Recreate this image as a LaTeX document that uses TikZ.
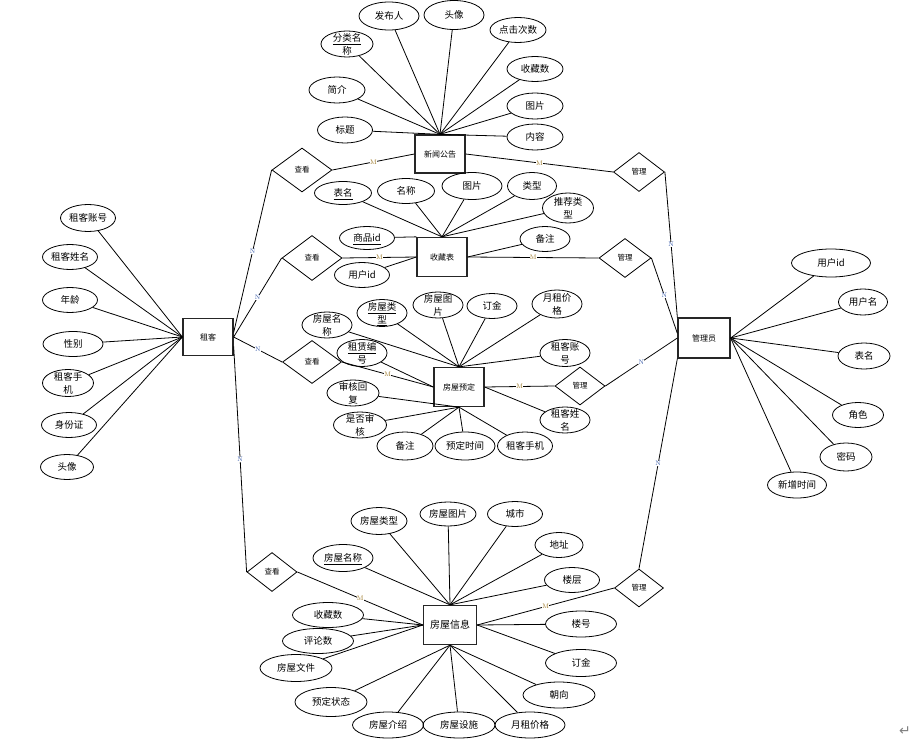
\documentclass[tikz,border=0pt]{standalone}
\usepackage{fontspec}
\usepackage{xcolor}
\usepackage{tikz}
\usetikzlibrary{shapes.geometric}
\newfontfamily\cjk{Noto Sans CJK SC}
\newfontfamily\symfont{DejaVu Sans}
\definecolor{mcolor}{HTML}{9A7420}
\definecolor{ncolor}{HTML}{3558A8}
\newcommand\etxt[1]{\makebox[0pt]{\raisebox{-.38em}[0pt][0pt]{\begin{tabular}{@{}c@{}}#1\end{tabular}}}}

\begin{document}
\begin{tikzpicture}[
    x=1pt, y=-1pt,
    sz/.style 2 args={minimum width=#1, minimum height=#2},
    attr/.style={ellipse, draw, line width=0.8pt, inner sep=0pt, font=\cjk\fontsize{9.5}{12.5}\selectfont},
    entity/.style={rectangle, draw=black!85, line width=1.3pt, inner sep=0pt, font=\cjk\fontsize{8}{10}\selectfont},
    rel/.style={diamond, draw, line width=0.8pt, inner sep=0pt, font=\cjk\fontsize{7.5}{9}\selectfont},
    link/.style={line width=0.8pt},
    mlab/.style={font=\fontsize{6.5}{6.5}\selectfont, text=mcolor, fill=white, inner sep=0.2pt},
    nlab/.style={font=\fontsize{6.5}{6.5}\selectfont, text=ncolor, fill=white, inner sep=0.2pt},
]
\fill[white] (0,0) rectangle (923,746);

\node[entity, sz={50}{38}] (news) at (440,154) {\etxt{新闻公告}};
\node[entity, sz={50}{39}] (fav) at (442,257) {\etxt{收藏表}};
\node[entity, sz={50}{39}] (book) at (459,387) {\etxt{房屋预定}};
\node[entity, sz={53}{39}, font=\cjk\fontsize{10}{12}\selectfont] (house) at (450,625) {\etxt{房屋信息}};
\node[entity, sz={50}{37}] (tenant) at (208,337) {\etxt{租客}};
\node[entity, sz={52}{40}] (admin) at (704,338) {\etxt{管理员}};

\node[rel, sz={60}{44}] (vnews) at (302,170) {\etxt{查看}};
\node[rel, sz={51}{39}] (mnews) at (639,172) {\etxt{管理}};
\node[rel, sz={60}{45}] (vfav) at (312,258) {\etxt{查看}};
\node[rel, sz={52}{39}] (mfav) at (625,258) {\etxt{管理}};
\node[rel, sz={59}{43}] (vbook) at (312,362) {\etxt{查看}};
\node[rel, sz={50}{38}] (mbook) at (580,386) {\etxt{管理}};
\node[rel, sz={50}{39}] (vhouse) at (272,572) {\etxt{查看}};
\node[rel, sz={49}{38}] (mhouse) at (639,588) {\etxt{管理}};

\node[attr, sz={60}{28}] (nfb) at (389,16) {\etxt{发布人}};
\node[attr, sz={60}{29}] (ntx) at (454,15) {\etxt{头像}};
\node[attr, sz={56}{25}] (ndj) at (518,30) {\etxt{点击次数}};
\node[attr, sz={56}{25}] (nsc) at (535,69) {\etxt{收藏数}};
\node[attr, sz={56}{26}] (ntp) at (535,106) {\etxt{图片}};
\node[attr, sz={56}{26}] (nnr) at (535,137) {\etxt{内容}};
\node[attr, sz={55}{26}] (nbt) at (345,130) {\etxt{标题}};
\node[attr, sz={56}{26}] (njj) at (337,90) {\etxt{简介}};
\node[attr, sz={52}{26}] (nfl) at (347,44) {\etxt{\underline{分类名}\\称}};

\node[attr, sz={57}{23}] (fbm) at (343,193) {\etxt{\underline{表名}}};
\node[attr, sz={57}{25}] (fmc) at (406,191) {\etxt{名称}};
\node[attr, sz={60}{27}] (ftp) at (472,186) {\etxt{图片}};
\node[attr, sz={49}{27}] (flx) at (532,186) {\etxt{类型}};
\node[attr, sz={51}{30}] (ftj) at (568,208) {\etxt{推荐类\\型}};
\node[attr, sz={55}{23}] (fsp) at (367,238) {\etxt{\underline{商品id}}};
\node[attr, sz={55}{25}] (fyh) at (362,275) {\etxt{用户id}};
\node[attr, sz={50}{25}] (fbz) at (545,239) {\etxt{备注}};

\node[attr, sz={50}{26}] (bmc) at (327,325) {\etxt{房屋名\\称}};
\node[attr, sz={50}{27}] (blx) at (382,313) {\etxt{\underline{房屋类}\\\underline{型}}};
\node[attr, sz={50}{26}] (btp) at (438,305) {\etxt{房屋图\\片}};
\node[attr, sz={50}{25}] (bdj) at (492,306) {\etxt{订金}};
\node[attr, sz={50}{28}] (byz) at (557,304) {\etxt{月租价\\格}};
\node[attr, sz={50}{27}] (bzh) at (565,353) {\etxt{租客账\\号}};
\node[attr, sz={50}{26}] (bxm) at (565,420) {\etxt{租客姓\\名}};
\node[attr, sz={50}{27}] (bbh) at (362,353) {\etxt{\underline{租赁编}\\号}};
\node[attr, sz={52}{26}] (bhf) at (353,393) {\etxt{审核回\\复}};
\node[attr, sz={53}{26}] (bsh) at (360,425) {\etxt{是否审\\核}};
\node[attr, sz={56}{28}] (bbz) at (405,446) {\etxt{备注}};
\node[attr, sz={60}{28}] (bsj) at (465,446) {\etxt{预定时间}};
\node[attr, sz={55}{28}] (bzs) at (525,446) {\etxt{租客手机}};

\node[attr, sz={55}{27}] (tzh) at (88,218) {\etxt{租客账号}};
\node[attr, sz={55}{25}] (txm) at (70,257) {\etxt{租客姓名}};
\node[attr, sz={55}{25}] (tnl) at (70,300) {\etxt{年龄}};
\node[attr, sz={60}{25}] (txb) at (73,344) {\etxt{性别}};
\node[attr, sz={51}{27}] (tsj) at (68,383) {\etxt{租客手\\机}};
\node[attr, sz={55}{25}] (tsf) at (69,425) {\etxt{身份证}};
\node[attr, sz={53}{25}] (ttx) at (67,467) {\etxt{头像}};

\node[attr, sz={79}{28}] (ayid) at (831,263) {\etxt{用户id}};
\node[attr, sz={49}{26}] (aymc) at (863,302) {\etxt{用户名}};
\node[attr, sz={52}{26}] (abm) at (864,356) {\etxt{表名}};
\node[attr, sz={51}{25}] (ajs) at (858,415) {\etxt{角色}};
\node[attr, sz={52}{28}] (amm) at (846,457) {\etxt{密码}};
\node[attr, sz={59}{26}] (axz) at (797,485) {\etxt{新增时间}};

\node[attr, sz={56}{27}] (hlx) at (379,521) {\etxt{房屋类型}};
\node[attr, sz={56}{24}] (htp) at (448,514) {\etxt{房屋图片}};
\node[attr, sz={55}{25}] (hcs) at (515,514) {\etxt{城市}};
\node[attr, sz={48}{25}] (hdz) at (559,545) {\etxt{地址}};
\node[attr, sz={55}{25}] (hlc) at (572,580) {\etxt{楼层}};
\node[attr, sz={71}{26}] (hlh) at (581,624) {\etxt{楼号}};
\node[attr, sz={71}{27}] (hdj) at (581,663) {\etxt{订金}};
\node[attr, sz={72}{26}] (hcx) at (559,695) {\etxt{朝向}};
\node[attr, sz={70}{26}] (hyz) at (530,725) {\etxt{月租价格}};
\node[attr, sz={72}{26}] (hss) at (459,725) {\etxt{房屋设施}};
\node[attr, sz={71}{26}] (hjs) at (388,725) {\etxt{房屋介绍}};
\node[attr, sz={72}{29}] (hyd) at (331,702) {\etxt{预定状态}};
\node[attr, sz={72}{27}] (hwj) at (296,668) {\etxt{房屋文件}};
\node[attr, sz={71}{25}] (hpl) at (318,641) {\etxt{评论数}};
\node[attr, sz={71}{25}] (hsc) at (328,615) {\etxt{收藏数}};
\node[attr, sz={60}{27}] (hmc) at (343,558) {\etxt{\underline{房屋名称}}};

\node[font=\symfont\fontsize{14}{14}\selectfont, text=black!50] (ret) at (905,731) {↵};

\draw[link] (nfb) -- (news.north);
\draw[link] (ntx) -- (news.north);
\draw[link] (ndj) -- (news.north);
\draw[link] (nsc) -- (news.north);
\draw[link] (ntp) -- (news.north);
\draw[link] (nnr) -- (news.north);
\draw[link] (nbt) -- (news.north);
\draw[link] (njj) -- (news.north);
\draw[link] (nfl) -- (news.north);

\draw[link] (fbm) -- (fav.north);
\draw[link] (fmc) -- (fav.north);
\draw[link] (ftp) -- (fav.north);
\draw[link] (flx) -- (fav.north);
\draw[link] (ftj) -- (fav.north);
\draw[link] (fsp) -- (fav.north west);
\draw[link] (fyh) -- (fav.west);
\draw[link] (fbz) -- (fav.east);

\draw[link] (bmc) -- (book.north);
\draw[link] (blx) -- (book.north);
\draw[link] (btp) -- (book.north);
\draw[link] (bdj) -- (book.north);
\draw[link] (byz) -- (book.north);
\draw[link] (bzh) -- (book.north);
\draw[link] (bbh) -- (book.west);
\draw[link] (bxm) -- (book.east);
\draw[link] (bhf) -- (book.south);
\draw[link] (bsh) -- (book.south);
\draw[link] (bbz) -- (book.south);
\draw[link] (bsj) -- (book.south);
\draw[link] (bzs) -- (book.south);

\draw[link] (tzh) -- (tenant.west);
\draw[link] (txm) -- (tenant.west);
\draw[link] (tnl) -- (tenant.west);
\draw[link] (txb) -- (tenant.west);
\draw[link] (tsj) -- (tenant.west);
\draw[link] (tsf) -- (tenant.west);
\draw[link] (ttx) -- (tenant.west);

\draw[link] (ayid) -- (admin.east);
\draw[link] (aymc) -- (admin.east);
\draw[link] (abm) -- (admin.east);
\draw[link] (ajs) -- (admin.east);
\draw[link] (amm) -- (admin.east);
\draw[link] (axz) -- (admin.east);

\draw[link] (hlx) -- (house.north);
\draw[link] (htp) -- (house.north);
\draw[link] (hcs) -- (house.north);
\draw[link] (hdz) -- (house.north);
\draw[link] (hlc) -- (house.north);
\draw[link] (hmc) -- (house.north);
\draw[link] (hsc) -- (house.west);
\draw[link] (hpl) -- (house.west);
\draw[link] (hwj) -- (house.west);
\draw[link] (hlh) -- (house.east);
\draw[link] (hdj) -- (house.east);
\draw[link] (hcx) -- (house.south);
\draw[link] (hyz) -- (house.south);
\draw[link] (hss) -- (house.south);
\draw[link] (hjs) -- (house.south);
\draw[link] (hyd) -- (house.south);

\draw[link] (tenant.10) -- node[nlab] {N} (vnews.west);
\draw[link] (tenant.east) -- node[nlab] {N} (vfav.west);
\draw[link] (tenant.east) -- node[nlab] {N} (vbook.west);
\draw[link] (tenant.-20) -- node[nlab] {N} (vhouse.west);

\draw[link] (vnews.east) -- node[mlab] {M} (news.west);
\draw[link] (vfav.east) -- node[mlab] {M} (fav.west);
\draw[link] (vbook.east) -- node[mlab] {M} (book.west);
\draw[link] (vhouse.east) -- node[mlab] {M} (house.west);

\draw[link] (news.east) -- node[mlab] {M} (mnews.west);
\draw[link] (fav.east) -- node[mlab] {M} (mfav.west);
\draw[link] (book.east) -- node[mlab] {M} (mbook.west);
\draw[link] (house.east) -- node[mlab] {M} (mhouse.west);

\draw[link] (mnews.east) -- node[nlab] {N} (admin.north west);
\draw[link] (mfav.east) -- node[nlab] {N} (admin.170);
\draw[link] (mbook.east) -- node[nlab] {N} (admin.west);
\draw[link] (mhouse.north) -- node[nlab] {N} (admin.south west);

\end{tikzpicture}
\end{document}
